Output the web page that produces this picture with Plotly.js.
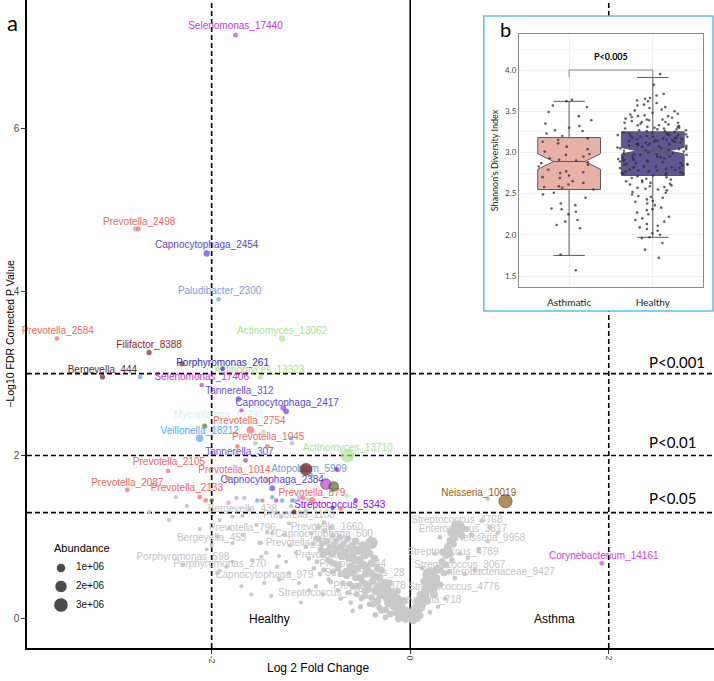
<!DOCTYPE html>
<html>
<head>
<meta charset="utf-8">
<script src="https://cdn.plot.ly/plotly-3.0.1.min.js"></script>
<style>
  body { margin: 0; background: #fff; }
  #chart { width: 714px; height: 681px; }
</style>
</head>
<body>
<div id="chart"></div>
<script>
// ---- panel a: volcano plot ----
// [group, log2 fold change, -log10 FDR p, abundance (millions)]
const colouredPoints = [
  ["Selenomonas", -1.76, 7.14, 0.12],
  ["Prevotella", -2.74, 4.77, 0.12],
  ["Capnocytophaga", -2.05, 4.47, 0.3],
  ["Paludibacter", -1.93, 3.91, 0.1],
  ["Prevotella", -3.56, 3.43, 0.1],
  ["Actinomyces", -1.29, 3.43, 0.3],
  ["Filifactor", -2.63, 3.26, 0.15],
  ["Filifactor", -2.30, 3.12, 0.15],
  ["Porphyromonas", -1.89, 3.06, 0.12],
  ["Actinomyces", -1.51, 2.96, 0.15],
  ["Bergeyella", -3.10, 2.96, 0.15],
  ["Veillonella", -2.72, 2.96, 0.1],
  ["Selenomonas", -2.10, 2.86, 0.1],
  ["Tannerella", -1.73, 2.69, 0.2],
  ["Selenomonas", -1.28, 2.58, 0.2],
  ["Capnocytophaga", -1.25, 2.54, 0.2],
  ["Selenomonas", -1.70, 2.55, 0.06],
  ["Mycoplasma", -1.93, 2.41, 0.06],
  ["Oribacterium", -2.07, 2.36, 0.15],
  ["Prevotella", -1.61, 2.31, 0.5],
  ["Actinomyces", -1.48, 2.29, 0.08],
  ["Veillonella", -2.12, 2.21, 0.5],
  ["Prevotella", -1.74, 2.11, 0.1],
  ["Prevotella", -1.44, 2.11, 0.1],
  ["Veillonella", -1.20, 2.21, 0.08],
  ["Actinomyces", -0.63, 2.00, 2.6],
  ["Tannerella", -1.66, 1.94, 0.1],
  ["Prevotella", -2.44, 1.81, 0.1],
  ["Prevotella", -1.84, 1.72, 0.1],
  ["Leptotrichia", -1.05, 1.83, 1.8],
  ["Atopobium", -1.00, 1.76, 0.1],
  ["Streptococcus", -0.74, 1.83, 0.1],
  ["Prevotella", -2.85, 1.58, 0.1],
  ["Prevotella", -1.44, 1.70, 0.08],
  ["Capnocytophaga", -1.39, 1.60, 0.2],
  ["Selenomonas", -0.85, 1.65, 1.3],
  ["Oribacterium", -0.77, 1.62, 1.0],
  ["Actinomyces", -0.64, 1.51, 0.08],
  ["Prevotella", -2.12, 1.49, 0.1],
  ["Prevotella", -2.06, 1.45, 0.1],
  ["Oribacterium", -2.00, 1.45, 0.08],
  ["Gemella", -1.83, 1.42, 0.1],
  ["Veillonella", -1.54, 1.45, 0.08],
  ["Prevotella", -1.49, 1.45, 0.08],
  ["Atopobium", -1.39, 1.49, 0.08],
  ["Selenomonas", -1.35, 1.45, 0.08],
  ["Veillonella", -1.29, 1.45, 0.08],
  ["Veillonella", -1.19, 1.45, 0.08],
  ["Gemella", -1.12, 1.48, 0.1],
  ["Prevotella", -1.08, 1.48, 0.1],
  ["Actinomyces", -1.04, 1.46, 0.12],
  ["Prevotella", -0.99, 1.45, 0.3],
  ["Leptotrichia", -1.17, 1.31, 0.1],
  ["Porphyromonas", -0.78, 1.36, 0.08],
  ["Prevotella", -0.70, 1.35, 0.12],
  ["Streptococcus", -0.55, 1.45, 0.1],
  ["Haemophilus", 0.78, 1.47, 0.12],
  ["Neisseria", 0.96, 1.44, 2.3],
  ["Corynebacterium", 1.93, 0.68, 0.12]
];

// [log2 fold change, -log10 FDR p, abundance (millions)]
const greyPoints = [
  [-2.77, 4.77, 0.15], [-1.56, 2.15, 0.08], [-1.19, 2.15, 0.08], [-1.75, 1.48, 0.08], [-1.17, 1.45, 0.08],
  [-2.63, 1.31, 0.05], [-2.43, 1.21, 0.05], [-2.36, 1.49, 0.06], [-1.67, 1.48, 0.08], [-1.94, 1.01, 0.06],
  [-1.82, 1.11, 0.06], [-1.79, 0.93, 0.05], [-1.92, 1.21, 0.06], [-1.79, 1.25, 0.06], [-1.55, 1.15, 0.07],
  [-1.50, 0.93, 0.06], [-1.44, 1.06, 0.07], [-1.30, 1.25, 0.08], [-1.27, 1.03, 0.06], [-1.21, 0.90, 0.07],
  [-1.32, 0.77, 0.06], [-1.94, 0.56, 0.05], [-1.85, 0.64, 0.06], [-1.79, 0.70, 0.05], [-1.59, 0.72, 0.06],
  [-1.45, 0.81, 0.07], [-1.52, 0.93, 0.06], [-1.39, 1.05, 0.07], [-1.50, 0.76, 0.06], [-1.34, 0.64, 0.07],
  [-1.25, 0.70, 0.06], [-1.22, 0.56, 0.07], [-1.15, 0.81, 0.06], [-1.12, 0.44, 0.06], [-1.32, 0.48, 0.06],
  [-1.02, 0.35, 0.06], [-1.05, 0.88, 0.08], [-2.05, 0.85, 0.05], [-1.70, 0.40, 0.05], [-1.60, 0.30, 0.05],
  [-1.40, 0.28, 0.06], [-1.10, 0.20, 0.06], [-1.20, 1.38, 0.06], [-1.05, 1.32, 0.07], [-1.62, 1.34, 0.06],
  [-2.25, 1.38, 0.05], [-2.12, 1.10, 0.05], [-2.29, 0.66, 0.05], [-1.92, 0.59, 0.05], [-1.47, 0.44, 0.06],
  [-1.69, 1.26, 0.06], [-1.69, 1.03, 0.06], [-2.00, 0.90, 0.05], [-1.22, 1.17, 0.07],
  [-1.00, 1.05, 0.1], [-0.98, 0.92, 0.15], [-1.02, 0.74, 0.1], [-0.97, 0.62, 0.1],
  [-0.93, 1.12, 0.12], [-0.92, 0.98, 0.2], [-0.90, 0.85, 0.3], [-0.94, 0.70, 0.12], [-0.91, 0.55, 0.1],
  [-0.86, 1.08, 0.15], [-0.84, 0.95, 0.3], [-0.85, 0.82, 0.5], [-0.83, 0.72, 0.2], [-0.87, 0.60, 0.15], [-0.82, 0.48, 0.1],
  [-0.78, 1.02, 0.2], [-0.77, 0.90, 0.4], [-0.79, 0.80, 0.6], [-0.76, 0.68, 0.3], [-0.78, 0.58, 0.2], [-0.80, 0.45, 0.1],
  [-0.71, 1.00, 0.3], [-0.70, 0.88, 0.5], [-0.69, 0.78, 0.8], [-0.72, 0.66, 0.4], [-0.70, 0.55, 0.3], [-0.68, 0.44, 0.2], [-0.73, 0.35, 0.1],
  [-0.63, 0.98, 0.4], [-0.61, 0.86, 0.7], [-0.62, 0.75, 0.6], [-0.60, 0.64, 0.5], [-0.64, 0.53, 0.4], [-0.61, 0.43, 0.3], [-0.63, 0.32, 0.15],
  [-0.55, 0.95, 0.5], [-0.54, 0.84, 0.9], [-0.56, 0.72, 0.6], [-0.53, 0.62, 0.5], [-0.55, 0.50, 0.4], [-0.57, 0.40, 0.3], [-0.54, 0.30, 0.2],
  [-0.48, 0.90, 0.7], [-0.46, 0.78, 0.6], [-0.47, 0.66, 0.8], [-0.45, 0.55, 0.5], [-0.48, 0.45, 0.4], [-0.46, 0.35, 0.3], [-0.49, 0.25, 0.2],
  [-0.39, 0.93, 2.0],
  [-0.41, 0.80, 0.5], [-0.39, 0.68, 0.6], [-0.40, 0.56, 0.7], [-0.38, 0.46, 0.5], [-0.42, 0.36, 0.4], [-0.39, 0.26, 0.3], [-0.41, 0.18, 0.2],
  [-0.33, 0.62, 0.4], [-0.31, 0.50, 0.6], [-0.32, 0.40, 0.7], [-0.30, 0.30, 0.8], [-0.33, 0.22, 0.5], [-0.31, 0.14, 0.3],
  [-0.25, 0.45, 0.4], [-0.23, 0.36, 0.6], [-0.24, 0.27, 0.9], [-0.22, 0.19, 0.7], [-0.25, 0.11, 0.4],
  [-0.17, 0.32, 0.5], [-0.15, 0.24, 1.2], [-0.16, 0.15, 0.8], [-0.14, 0.08, 0.5], [-0.14, 0.23, 1.8],
  [-0.09, 0.18, 0.6], [-0.07, 0.10, 0.9], [-0.08, 0.03, 0.7],
  [-0.03, 0.08, 0.8], [-0.01, 0.02, 0.6], [-0.05, 0.00, 0.5],
  [-0.50, 0.15, 0.15], [-0.60, 0.20, 0.1], [-0.70, 0.25, 0.1], [-0.35, 0.05, 0.2], [-0.25, 0.02, 0.2],
  [-0.88, 0.30, 0.08], [-0.95, 0.40, 0.08], [-0.58, 0.10, 0.1], [-0.87, 1.18, 0.1], [-0.80, 1.12, 0.12],
  [-0.95, 0.98, 0.2], [-0.89, 0.92, 0.25], [-0.81, 0.88, 0.35], [-0.74, 0.84, 0.4], [-0.66, 0.82, 0.5],
  [-0.58, 0.78, 0.5], [-0.51, 0.72, 0.6], [-0.44, 0.62, 0.6], [-0.36, 0.52, 0.7], [-0.28, 0.40, 0.7],
  [-0.20, 0.30, 0.8], [-0.12, 0.18, 0.9], [-0.05, 0.10, 0.8],
  [-0.88, 0.78, 0.25], [-0.80, 0.70, 0.3], [-0.73, 0.62, 0.35], [-0.65, 0.58, 0.4], [-0.58, 0.56, 0.45],
  [-0.50, 0.50, 0.5], [-0.43, 0.42, 0.55], [-0.35, 0.34, 0.6], [-0.27, 0.30, 0.6], [-0.19, 0.22, 0.7], [-0.11, 0.12, 0.7],
  [-0.75, 0.95, 0.3], [-0.67, 0.92, 0.4], [-0.59, 0.90, 0.4], [-0.51, 0.84, 0.5], [-0.44, 0.86, 0.6],
  [-0.36, 0.74, 0.5], [-0.29, 0.60, 0.4], [-0.21, 0.44, 0.4], [-0.13, 0.34, 0.4], [-0.06, 0.22, 0.4],
  [-0.52, 0.40, 0.3], [-0.45, 0.28, 0.3], [-0.37, 0.18, 0.3], [-0.29, 0.10, 0.3], [-0.20, 0.06, 0.4], [-0.12, 0.00, 0.4],
  [0.02, 0.02, 0.6], [0.05, 0.06, 0.8], [0.08, 0.10, 0.7], [0.06, 0.16, 0.5], [0.10, 0.04, 0.4],
  [0.12, 0.18, 0.6], [0.14, 0.26, 0.9], [0.10, 0.30, 0.5], [0.16, 0.36, 1.2], [0.19, 0.54, 2.5],
  [0.22, 0.39, 2.0], [0.18, 0.48, 1.0], [0.24, 0.30, 0.6], [0.26, 0.50, 0.7], [0.28, 0.62, 0.5],
  [0.30, 0.42, 0.3], [0.32, 0.70, 0.4], [0.34, 0.56, 0.3], [0.36, 0.78, 0.5], [0.38, 0.88, 0.6],
  [0.40, 0.96, 0.4], [0.42, 0.72, 0.2], [0.44, 1.00, 0.8], [0.45, 1.12, 0.3], [0.48, 1.12, 2.8],
  [0.42, 1.06, 1.0], [0.52, 1.02, 0.4], [0.56, 1.10, 0.3], [0.62, 1.03, 0.15], [0.69, 0.85, 0.12],
  [0.58, 0.75, 0.12], [0.50, 0.80, 0.1], [0.39, 0.58, 0.15], [0.45, 0.50, 0.1], [0.35, 0.25, 0.1],
  [0.28, 0.15, 0.08], [0.20, 0.08, 0.1], [0.55, 0.55, 0.1], [0.65, 0.60, 0.1], [0.72, 1.20, 0.1],
  [0.80, 1.12, 0.1], [0.88, 1.05, 0.1], [0.78, 0.95, 0.08], [0.30, 1.00, 0.1], [0.25, 0.80, 0.1], [0.12, 0.62, 0.1],
  [0.04, 0.12, 0.6], [0.08, 0.22, 0.7], [0.11, 0.14, 0.6], [0.15, 0.30, 0.8], [0.17, 0.22, 0.5],
  [0.21, 0.46, 0.9], [0.24, 0.58, 0.6], [0.27, 0.44, 0.5], [0.30, 0.60, 0.5], [0.33, 0.82, 0.5],
  [0.36, 0.66, 0.4], [0.40, 0.80, 0.5], [0.43, 0.92, 0.6], [0.46, 1.04, 0.6], [0.50, 1.12, 0.5],
  [0.14, 0.46, 0.5], [0.03, -0.02, 0.5], [0.07, 0.01, 0.5]
];

// [label, x, y] for labelled OTUs
const colouredLabels = [
  ["Selenomonas_17440", -1.76, 7.24],
  ["Prevotella_2498", -2.73, 4.85],
  ["Capnocytophaga_2454", -2.05, 4.57],
  ["Paludibacter_2300", -1.92, 4.00],
  ["Prevotella_2584", -3.55, 3.52],
  ["Actinomyces_13062", -1.29, 3.52],
  ["Filifactor_8388", -2.63, 3.35],
  ["Porphyromonas_261", -1.89, 3.13],
  ["Actinomyces_13323", -1.52, 3.04],
  ["Bergeyella_444", -3.10, 3.04],
  ["Selenomonas_17406", -2.10, 2.95],
  ["Tannerella_312", -1.72, 2.78],
  ["Capnocytophaga_2417", -1.24, 2.64],
  ["Mycoplasma_12299", -1.93, 2.49],
  ["Prevotella_2754", -1.62, 2.41],
  ["Veillonella_18212", -2.12, 2.29],
  ["Prevotella_1045", -1.43, 2.22],
  ["Actinomyces_13710", -0.63, 2.09],
  ["Tannerella_307", -1.72, 2.04],
  ["Prevotella_2105", -2.43, 1.91],
  ["Atopobium_5909", -1.02, 1.83],
  ["Prevotella_1014", -1.77, 1.81],
  ["Capnocytophaga_2384", -1.39, 1.69],
  ["Prevotella_2087", -2.85, 1.66],
  ["Prevotella_2133", -2.25, 1.59],
  ["Prevotella_879", -0.99, 1.54],
  ["Streptococcus_5343", -0.71, 1.39],
  ["Neisseria_10019", 0.69, 1.54],
  ["Corynebacterium_14161", 1.95, 0.77]
];

const greyLabels = [
  ["Bergeyella_438", -1.69, 1.34],
  ["Prevotella_1158", -1.12, 1.26],
  ["Prevotella_796", -1.69, 1.11],
  ["Prevotella_1660", -0.84, 1.12],
  ["Bergeyella_453", -2.00, 0.99],
  ["Capnocytophaga_500", -0.87, 1.03],
  ["Prevotella_858", -1.12, 0.92],
  ["Prevotella_1196", -0.80, 0.78],
  ["Porphyromonas_598", -2.29, 0.75],
  ["Porphyromonas_270", -1.92, 0.67],
  ["Prevotella_244", -0.58, 0.67],
  ["Capnocytophaga_979", -1.47, 0.53],
  ["Streptococcus_28", -0.46, 0.56],
  ["Prevotella_1878", -0.41, 0.40],
  ["Streptococcus_435", -0.90, 0.31],
  ["Prevotella_718", 0.18, 0.22],
  ["Streptococcus_4768", 0.47, 1.21],
  ["Enterococcus_3817", 0.53, 1.10],
  ["Neisseria_9958", 0.81, 0.98],
  ["Streptococcus_4789", 0.43, 0.81],
  ["Streptococcus_3067", 0.50, 0.66],
  ["Enterobacteriaceae_9427", 0.88, 0.57],
  ["Streptococcus_4776", 0.44, 0.38]
];

const pThresholds = [0.001, 0.01, 0.05];
const foldCutoffs = [-2, 2];
const legendAbundance = [1, 2, 3];
const legendLabels = ["1e+06", "2e+06", "3e+06"];

// ---- panel b: Shannon diversity ----
const groups = ["Asthmatic", "Healthy"];
const boxQ1 = [2.55, 2.72];
const boxMedian = [2.89, 3.02];
const boxQ3 = [3.18, 3.25];
const boxLow = [1.75, 1.97];
const boxHigh = [3.62, 3.91];
const boxNotch = [0.095, 0.04];
const asthmaShannon = [3.64, 3.62, 3.57, 3.55, 3.49, 3.44, 3.39, 3.32, 3.30, 3.27, 3.23, 3.20, 3.17, 3.15, 3.13,
  3.11, 3.07, 3.04, 3.01, 2.98, 2.97, 2.95, 2.93, 2.91, 2.88, 2.87, 2.85, 2.83, 2.79, 2.77, 2.76, 2.75, 2.72, 2.69,
  2.65, 2.63, 2.61, 2.59, 2.57, 2.55, 2.51, 2.49, 2.45, 2.38, 2.36, 2.32, 2.31, 2.28, 2.18, 2.16, 2.12, 2.08, 1.76,
  1.57, 3.35, 3.26, 2.90, 2.70, 2.58, 2.25];
const healthyShannon = [
  3.95, 3.82, 3.71, 3.69, 3.66, 3.65, 3.63, 3.62, 3.60, 3.58, 3.57, 3.55, 3.54, 3.51, 3.50, 3.48, 3.47, 3.45, 3.44, 3.43,
  3.42, 3.41, 3.40, 3.40, 3.38, 3.37, 3.36, 3.36, 3.35, 3.33, 3.33, 3.32, 3.31, 3.30, 3.29, 3.29, 3.28, 3.27, 3.27, 3.26,
  3.46, 3.39, 3.34, 3.52, 3.31, 3.28, 3.37, 3.26, 3.44, 3.30,
  3.25, 3.24, 3.23, 3.23, 3.22, 3.21, 3.21, 3.20, 3.19, 3.19, 3.18, 3.17, 3.17, 3.16, 3.15, 3.15, 3.14, 3.13, 3.13, 3.12,
  3.11, 3.11, 3.10, 3.09, 3.09, 3.08, 3.07, 3.07, 3.06, 3.05, 3.05, 3.04, 3.03, 3.03, 3.02, 3.24, 3.20, 3.16, 3.12, 3.08,
  3.22, 3.18, 3.14, 3.10, 3.06, 3.19, 3.13, 3.04, 3.21, 3.15,
  3.01, 3.00, 2.99, 2.98, 2.98, 2.97, 2.96, 2.95, 2.94, 2.94, 2.93, 2.92, 2.91, 2.90, 2.90, 2.89, 2.88, 2.87, 2.86, 2.86,
  2.85, 2.84, 2.83, 2.82, 2.82, 2.81, 2.80, 2.79, 2.78, 2.78, 2.77, 2.76, 2.75, 2.74, 2.74, 2.73, 2.72, 2.97, 2.93, 2.89,
  2.85, 2.81, 2.77, 2.99, 2.95, 2.91, 2.87, 2.83, 2.79, 2.75,
  2.71, 2.70, 2.69, 2.68, 2.66, 2.65, 2.64, 2.63, 2.61, 2.60, 2.59, 2.58, 2.57, 2.55, 2.54, 2.52, 2.51, 2.49, 2.47, 2.46,
  2.45, 2.43, 2.41, 2.40, 2.38, 2.36, 2.33, 2.31, 2.30, 2.27, 2.25, 2.22, 2.20, 2.18, 2.16, 2.13, 2.11, 2.09, 2.07, 2.05,
  2.02, 2.00, 1.97, 1.96, 1.90, 1.82, 1.72, 2.67, 2.62, 2.56
];
const bracketY = [3.91, 4.0, 4.0, 3.91];

const genusColours = {
  Prevotella: "#EE6A5F", Capnocytophaga: "#5B47D1", Selenomonas: "#C63AD6", Paludibacter: "#7C9DD6",
  Actinomyces: "#A9E58E", Filifactor: "#8E1D1D", Porphyromonas: "#2D2DB5", Bergeyella: "#5B2B2B",
  Tannerella: "#6A4FE3", Mycoplasma: "#D5F1F8", Veillonella: "#4FA7F3", Atopobium: "#6F9CC9",
  Streptococcus: "#9B00FF", Neisseria: "#93600F", Corynebacterium: "#D23FD9", Leptotrichia: "#6E0F0F",
  Oribacterium: "#56702E", Gemella: "#E58BE9", Haemophilus: "#93C093"
};
const grey = "#C9C9C9";
const labelFont = "Liberation Sans, Arial, sans-serif";
const calibriLike = "Lato, sans-serif";

// area-like size scale, similar to ggplot's scale_size
function dotSize(a) { return 2.5 + 7 * Math.sqrt(a); }

const col = (arr, i) => arr.map(r => r[i]);

const traces = [
  {
    type: "scatter", mode: "text", xaxis: "x", yaxis: "y",
    x: col(greyLabels, 1), y: col(greyLabels, 2), text: col(greyLabels, 0),
    textfont: { family: labelFont, size: 10, color: "#C4C4C4" },
    cliponaxis: false, hoverinfo: "skip"
  },
  {
    type: "scatter", mode: "text", xaxis: "x", yaxis: "y",
    x: col(colouredLabels, 1), y: col(colouredLabels, 2), text: col(colouredLabels, 0),
    textfont: { family: labelFont, size: 10, color: colouredLabels.map(r => genusColours[r[0].split("_")[0]]) },
    cliponaxis: false, hoverinfo: "skip"
  },
  {
    type: "scatter", mode: "markers", xaxis: "x", yaxis: "y",
    x: col(greyPoints, 0), y: col(greyPoints, 1),
    marker: { color: grey, size: greyPoints.map(p => dotSize(p[2])), line: { width: 0 }, opacity: 1 }
  },
  {
    type: "scatter", mode: "markers", xaxis: "x", yaxis: "y",
    x: col(colouredPoints, 1), y: col(colouredPoints, 2),
    marker: {
      color: colouredPoints.map(p => genusColours[p[0]]),
      size: colouredPoints.map(p => dotSize(p[3])),
      line: { width: colouredPoints.map(p => p[3] > 0.9 && p[0] !== "Actinomyces" ? 0.8 : 0), color: "#222" }
    }
  },
  // abundance legend
  {
    type: "scatter", mode: "markers", xaxis: "x3", yaxis: "y3",
    x: legendAbundance.map(() => 61), y: legendAbundance.map((a, i) => 568 + i * 18.5),
    marker: { color: "#000", size: legendAbundance.map(dotSize) }
  },
  {
    type: "scatter", mode: "text", xaxis: "x3", yaxis: "y3",
    x: legendAbundance.map(() => 90), y: legendAbundance.map((a, i) => 568 + i * 18.5),
    text: legendLabels, textfont: { family: labelFont, size: 10, color: "#111" }, cliponaxis: false
  },
  // panel b boxes
  ...groups.map((g, i) => ({
    type: "box", xaxis: "x2", yaxis: "y2", x: [i],
    q1: [boxQ1[i]], median: [boxMedian[i]], q3: [boxQ3[i]],
    lowerfence: [boxLow[i]], upperfence: [boxHigh[i]], notchspan: [boxNotch[i]],
    notched: true, notchwidth: 0.25, width: 0.75, boxpoints: false,
    fillcolor: i === 0 ? "#E8B1A7" : "#5F5791",
    line: { color: "#5A5A5A", width: 1 }
  })),
  ...[asthmaShannon, healthyShannon].map((vals, i) => ({
    type: "box", xaxis: "x2", yaxis: "y2", x0: i, y: vals,
    boxpoints: "all", jitter: 1, pointpos: 0, width: i === 0 ? 0.8 : 0.88,
    fillcolor: "rgba(0,0,0,0)", line: { width: 0, color: "rgba(0,0,0,0)" },
    marker: { size: 2.6, color: "rgba(45,45,45,0.75)" }
  })),
  {
    type: "scatter", mode: "lines", xaxis: "x2", yaxis: "y2",
    x: [0, 0, 1, 1], y: bracketY, line: { color: "#8A8A8A", width: 1 }
  }
];

const dashed = { color: "#000", width: 1.6, dash: "5px,3px" };
const shapes = [
  ...foldCutoffs.map(v => ({ type: "line", layer: "below", xref: "x", yref: "paper", x0: v, x1: v, y0: 0, y1: 1, line: dashed })),
  { type: "line", layer: "below", xref: "x", yref: "paper", x0: 0, x1: 0, y0: 0, y1: 1, line: { color: "#000", width: 1.6 } },
  ...pThresholds.map(p => ({ type: "line", layer: "below", xref: "paper", yref: "y", x0: 0, x1: 1, y0: -Math.log10(p), y1: -Math.log10(p), line: dashed })),
  { type: "rect", layer: "below", xref: "paper", yref: "paper", x0: 0.665, x1: 0.9985, y0: 0.520, y1: 0.9753,
    fillcolor: "#fff", line: { color: "#63BDE6", width: 1.5 } }
];

const pText = ["P&lt;0.001", "P&lt;0.01", "P&lt;0.05"];
const pLabelY = [3.14, 2.16, 1.48];

function note(extra) {
  return Object.assign({ showarrow: false, xanchor: "center", yanchor: "middle" }, extra);
}

const annotations = [
  note({ text: "a", xref: "paper", yref: "paper", x: -0.0218, y: 0.966, font: { family: calibriLike, size: 22, color: "#000" } }),
  note({ text: "b", xref: "paper", yref: "paper", x: 0.696, y: 0.955, font: { family: calibriLike, size: 20, color: "#000" } }),
  ...pText.map((t, i) => note({ text: t, xref: "paper", yref: "y", x: 0.9025, xanchor: "left", y: pLabelY[i],
    font: { family: calibriLike, size: 15, color: "#000" } })),
  note({ text: "Healthy", xref: "x", yref: "y", x: -1.42, y: 0, font: { family: labelFont, size: 12, color: "#000" } }),
  note({ text: "Asthma", xref: "x", yref: "y", x: 1.45, y: 0, font: { family: labelFont, size: 12, color: "#000" } }),
  note({ text: "Log 2 Fold Change", xref: "paper", yref: "paper", x: 0.4236, y: -0.0309,
    font: { family: labelFont, size: 12, color: "#000" } }),
  note({ text: "−Log10 FDR Corrected P Value", xref: "paper", yref: "paper", x: -0.0247, y: 0.485, textangle: -90,
    font: { family: labelFont, size: 10.5, color: "#000" } }),
  note({ text: "Abundance", xref: "x3", yref: "y3", x: 82, y: 548, font: { family: labelFont, size: 11, color: "#000" } }),
  note({ text: "<b>P&lt;0.005</b>", xref: "x2", yref: "y2", x: 0.5, y: 4.17, font: { family: calibriLike, size: 9, color: "#000" } })
];

const layout = {
  width: 714, height: 681,
  margin: { l: 27, r: 0, t: 0, b: 33 },
  paper_bgcolor: "#fff", plot_bgcolor: "#fff",
  showlegend: false, boxmode: "overlay", hovermode: false,
  xaxis: {
    domain: [0, 1], anchor: "y", range: [-3.86, 3.06],
    tickvals: [-2, 0, 2], ticktext: ["-2", "0", "2"], tickangle: 90,
    ticks: "outside", ticklen: 4, tickcolor: "#333", tickwidth: 1,
    tickfont: { family: labelFont, size: 9, color: "#4D4D4D" },
    showgrid: false, zeroline: false, showline: true, linecolor: "#000", linewidth: 1.6
  },
  yaxis: {
    domain: [0, 1], anchor: "x", range: [-0.355, 7.57],
    tickvals: [0, 2, 4, 6], ticks: "outside", ticklen: 4, tickcolor: "#333", tickwidth: 1,
    tickfont: { family: labelFont, size: 10, color: "#4D4D4D" },
    showgrid: false, zeroline: false, showline: true, linecolor: "#000", linewidth: 1.6
  },
  xaxis2: {
    domain: [0.716, 0.984], anchor: "y2", range: [-0.6, 1.6],
    tickvals: [0, 1], ticktext: groups, ticks: "outside", ticklen: 6, tickcolor: "rgba(0,0,0,0)",
    tickfont: { family: calibriLike, size: 10, color: "#222" },
    showgrid: true, gridcolor: "#F0F0F0", zeroline: false,
    showline: true, mirror: true, linecolor: "#8C8C8C", linewidth: 1
  },
  yaxis2: {
    domain: [0.557, 0.9475], anchor: "x2", range: [1.366, 4.437],
    tickvals: [1.5, 2.0, 2.5, 3.0, 3.5, 4.0], tickformat: ".1f", ticks: "",
    tickfont: { family: calibriLike, size: 8, color: "#444" },
    showgrid: true, gridcolor: "#EDEDED", zeroline: false,
    minor: { dtick: 0.25, showgrid: true, gridcolor: "#F6F6F6" },
    showline: true, mirror: true, linecolor: "#8C8C8C", linewidth: 1,
    title: { text: "Shannon's Diversity Index", font: { family: calibriLike, size: 9, color: "#222" }, standoff: 4 }
  },
  xaxis3: { domain: [0.0189, 0.1499], anchor: "y3", range: [40, 130], visible: false },
  yaxis3: { domain: [0.0509, 0.1698], anchor: "x3", range: [615, 538], visible: false },
  shapes: shapes,
  annotations: annotations
};

Plotly.newPlot("chart", traces, layout, { staticPlot: true, displayModeBar: false });
</script>
</body>
</html>
